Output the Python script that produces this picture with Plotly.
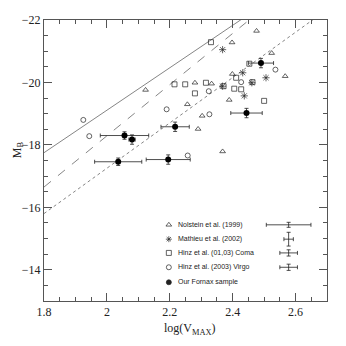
import numpy as np
import plotly.graph_objects as go

# ---------------- data ----------------
# Nolstein et al. (1999) - open triangles
nol_logv = [2.123, 2.476, 2.398, 2.524, 2.567, 2.399, 2.280, 2.333, 2.256, 2.389, 2.303, 2.290, 2.368]
nol_mb = [-19.76, -21.65, -21.28, -20.94, -20.20, -20.27, -19.99, -19.96, -19.30, -19.44, -18.93, -18.51, -17.79]

# Mathieu et al. (2002) - asterisks
mat_logv = [2.368, 2.432, 2.506, 2.461, 2.368, 2.437]
mat_mb = [-21.05, -20.31, -20.15, -19.99, -19.88, -19.57]

# Hinz et al. (01,03) Coma - open squares
coma_logv = [2.331, 2.453, 2.215, 2.249, 2.315, 2.280, 2.371, 2.411, 2.405, 2.427, 2.463, 2.500]
coma_mb = [-21.29, -20.60, -19.94, -19.94, -19.99, -19.65, -19.88, -20.15, -19.80, -19.78, -20.01, -19.41]

# Hinz et al. (2003) Virgo - open circles
virgo_logv = [1.925, 1.944, 2.190, 2.324, 2.326, 2.536, 2.257, 2.427]
virgo_mb = [-18.80, -18.28, -19.14, -19.72, -18.98, -20.41, -17.66, -20.01]

# Our Fornax sample - filled circles with errors
fnx_logv = [2.056, 2.080, 2.036, 2.195, 2.217, 2.490, 2.444]
fnx_mb = [-18.30, -18.17, -17.46, -17.53, -18.58, -20.62, -19.02]
fnx_err_logv = [0.077, 0.010, 0.075, 0.070, 0.045, 0.040, 0.050]
fnx_err_mb = [0.12, 0.15, 0.12, 0.15, 0.15, 0.15, 0.15]

# Tully-Fisher relations: zero point at log V = 1.8 and slope
tf_x = [1.8, 2.7]
tf_solid = (-17.75, -6.8)
tf_dash = (-16.65, -8.2)
tf_dot = (-15.8, -7.26)

# legend rows
leg_labels = ["Nolstein et al. (1999)", "Mathieu et al. (2002)", "Hinz et al. (01,03) Coma",
              "Hinz et al. (2003) Virgo", "Our Fornax sample"]
leg_mb = [-15.44, -14.98, -14.54, -14.08, -13.60]
leg_err_logv = [0.071, 0.015, 0.028, 0.028]
leg_err_mb = [0.08, 0.22, 0.1, 0.1]

x_ticks = [1.8, 2.0, 2.2, 2.4, 2.6]
x_ticktext = ["1.8", "2", "2.2", "2.4", "2.6"]
y_ticks = [-22, -20, -18, -16, -14]
y_ticktext = ["\u221222", "\u221220", "\u221218", "\u221216", "\u221214"]

INK = "#222"
LINE = "#777"
SERIF = "Liberation Serif"

fig = go.Figure()

for (zp, slope), dash in [(tf_solid, "solid"), (tf_dash, "dash"), (tf_dot, "dot")]:
    xs = np.array(tf_x)
    fig.add_trace(go.Scatter(x=xs, y=zp + slope * (xs - 1.8), mode="lines",
                             line=dict(color=LINE, width=0.9, dash=dash),
                             hoverinfo="skip"))

def open_pts(x, y, symbol, size=5):
    fig.add_trace(go.Scatter(x=x, y=y, mode="markers",
                             marker=dict(symbol=symbol, size=size, color=INK,
                                         line=dict(color=INK, width=0.7))))

open_pts(nol_logv, nol_mb, "triangle-up-open")
open_pts(mat_logv, mat_mb, "asterisk-open", 6)
open_pts(coma_logv, coma_mb, "square-open", 5)
open_pts(virgo_logv, virgo_mb, "circle-open", 5)

fig.add_trace(go.Scatter(
    x=fnx_logv, y=fnx_mb, mode="markers",
    marker=dict(symbol="circle", size=6, color="black"),
    error_x=dict(type="data", array=fnx_err_logv, color=INK, thickness=0.8, width=2),
    error_y=dict(type="data", array=fnx_err_mb, color=INK, thickness=0.8, width=2),
))

# legend built by hand (markers, labels, typical error bars)
leg_marker_x = 2.197
leg_text_x = 2.219
leg_err_x = 2.578
symbols = ["triangle-up-open", "asterisk-open", "square-open", "circle-open", "circle"]
for sym, yy in zip(symbols, leg_mb):
    open_pts([leg_marker_x], [yy], sym, 5)
for lab, yy in zip(leg_labels, leg_mb):
    fig.add_annotation(x=leg_text_x, y=yy, text=lab, showarrow=False, xanchor="left",
                       yanchor="middle", font=dict(family="Liberation Sans", size=7, color=INK))
for ex, ey, yy in zip(leg_err_logv, leg_err_mb, leg_mb[:4]):
    fig.add_trace(go.Scatter(
        x=[leg_err_x], y=[yy], mode="markers", marker=dict(size=0.1, color=INK),
        error_x=dict(type="data", array=[ex], color=INK, thickness=0.8, width=2),
        error_y=dict(type="data", array=[ey], color=INK, thickness=0.8, width=2),
    ))

# axis titles placed by hand
fig.add_annotation(xref="paper", yref="paper", x=0.516, y=0, yshift=-18, yanchor="top",
                   text="log(V<sub>MAX</sub>)", showarrow=False,
                   font=dict(family=SERIF, size=12, color=INK))
fig.add_annotation(xref="paper", yref="paper", x=-0.127, y=0.537, textangle=-90,
                   text="M<sub>B</sub>", showarrow=False,
                   font=dict(family=SERIF, size=12, color=INK))

axis_common = dict(
    showgrid=False, zeroline=False, showline=True, linecolor="#555", linewidth=1,
    mirror="allticks", ticks="inside", ticklen=8, tickcolor="#555", automargin=False,
    tickfont=dict(family=SERIF, size=12, color=INK),
)
fig.update_xaxes(range=[1.8, 2.7], tickvals=x_ticks, ticktext=x_ticktext,
                 minor=dict(dtick=0.05, ticks="inside", ticklen=4, tickcolor="#555"),
                 **axis_common)
fig.update_yaxes(range=[-13, -22], tickvals=y_ticks, ticktext=y_ticktext,
                 minor=dict(dtick=0.5, ticks="inside", ticklen=4, tickcolor="#555"),
                 **axis_common)

# page body adds an 8px offset, so the figure is a bit smaller than the window
fig.update_layout(
    width=338, height=338, showlegend=False,
    margin=dict(l=36, r=19, t=12, b=45),
    paper_bgcolor="white", plot_bgcolor="white",
)

fig.write_html("out.html")
